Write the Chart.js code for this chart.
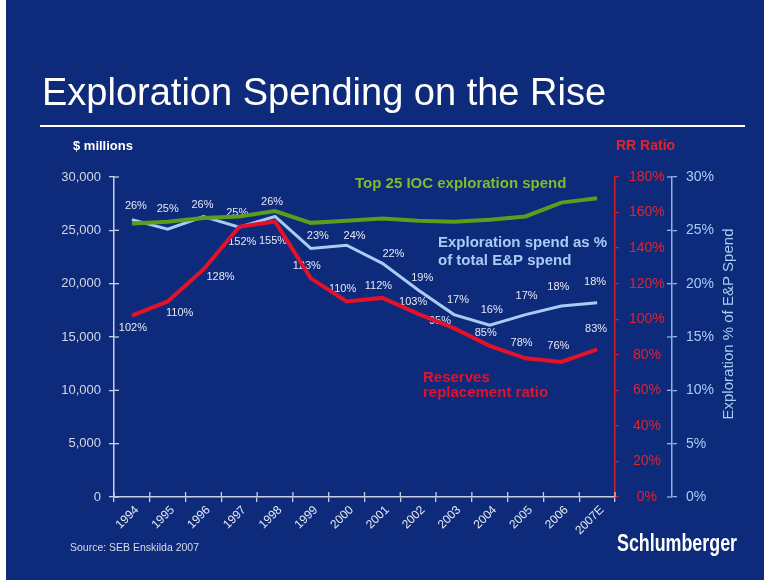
<!DOCTYPE html>
<html><head><meta charset="utf-8">
<script src="https://cdn.jsdelivr.net/npm/chart.js@4.4.0/dist/chart.umd.min.js"></script>
<style>html,body{margin:0;padding:0;background:#fff;overflow:hidden}#wrap{width:764px;height:580px;position:relative}</style>
</head><body><div id="wrap"><canvas id="c" width="764" height="580"></canvas></div>
<script>
// ---- data ----
const years = ['1994','1995','1996','1997','1998','1999','2000','2001','2002','2003','2004','2005','2006','2007E'];
const iocSpend = [25650, 25800, 26150, 26300, 26800, 25700, 25900, 26100, 25900, 25800, 26000, 26300, 27600, 28000];
const explPct = [26.0, 25.1, 26.3, 25.3, 26.3, 23.3, 23.6, 21.9, 19.4, 17.1, 16.1, 17.1, 17.9, 18.2];
const explPctLabels = ['26%','25%','26%','25%','26%','23%','24%','22%','19%','17%','16%','17%','18%','18%'];
const rrRatio = [102, 110, 128, 152, 155, 123, 110, 112, 103, 95, 85, 78, 76, 83];
const rrLabels = ['102%','110%','128%','152%','155%','123%','110%','112%','103%','95%','85%','78%','76%','83%'];
const spendAxis = {min: 0, max: 30000, step: 5000};
const rrAxis = {min: 0, max: 180, step: 20};
const pctAxis = {min: 0, max: 30, step: 5};

// ---- label nudges (styling) ----
const pctLabelNudge = [[4,-14],[0,-20],[-1,-11],[-2,-14],[-3,-14],[7,-12],[8,-9],[11,-9],[4,-12],[4,-15],[2,-15],[1,-19],[-3,-19],[-2,-21]];
const rrLabelNudge = [[1,12],[12,12],[17,8],[3,15],[-2,20],[-4,-12],[-4,-12],[-4,-12],[-5,-12],[-14,-7],[-4,-13],[-4,-15],[-3,-16],[-1,-20]];

const BG = '#0e2a7b';
const GREEN = '#5c9c1e', GREEN_TXT = '#7fbb2c';
const LBLUE = '#a8ccf4', LBLUE_AX = '#8fb2e6';
const RED = '#e3122a', RED_TXT = '#e0242c';
const AXGREY = '#c9cee0';
const LABEL = '#e6e9f2';
const FONT = "'Liberation Sans', Arial, sans-serif";

const bgPlugin = {
  id: 'bg',
  beforeDraw(chart) {
    const ctx = chart.ctx;
    ctx.save();
    ctx.fillStyle = '#ffffff';
    ctx.fillRect(0, 0, chart.width, chart.height);
    ctx.fillStyle = BG;
    ctx.fillRect(6, 0, chart.width - 6, chart.height);
    ctx.restore();
  }
};

const labelPlugin = {
  id: 'valueLabels',
  beforeDatasetsDraw(chart) {
    const ctx = chart.ctx;
    ctx.save();
    ctx.font = '11px ' + FONT;
    ctx.fillStyle = LABEL;
    ctx.textAlign = 'center';
    ctx.textBaseline = 'middle';
    const pm = chart.getDatasetMeta(1).data;
    pm.forEach((p, i) => ctx.fillText(explPctLabels[i], p.x + pctLabelNudge[i][0], p.y + pctLabelNudge[i][1]));
    const rm = chart.getDatasetMeta(2).data;
    rm.forEach((p, i) => ctx.fillText(rrLabels[i], p.x + rrLabelNudge[i][0], p.y + rrLabelNudge[i][1]));
    ctx.restore();
  }
};

const innerTicks = {
  id: 'innerTicks',
  afterDraw(chart) {
    const ctx = chart.ctx;
    const {x, y, yPct} = chart.scales;
    const seg = (a, b, c, d) => { ctx.beginPath(); ctx.moveTo(a, b); ctx.lineTo(c, d); ctx.stroke(); };
    ctx.save();
    ctx.lineWidth = 1.3;
    ctx.strokeStyle = AXGREY;
    y.ticks.forEach((t, i) => { const py = y.getPixelForTick(i); seg(y.right, py, y.right + 5, py); });
    for (let i = 0; i <= years.length; i++) { const px = x.getPixelForValue(i - 0.5); seg(px, x.top, px, x.top - 5); }
    ctx.strokeStyle = LBLUE_AX;
    yPct.ticks.forEach((t, i) => { const py = yPct.getPixelForTick(i); seg(yPct.left - 5, py, yPct.left, py); });
    ctx.restore();
  }
};

const textPlugin = {
  id: 'texts',
  afterDraw(chart) {
    const ctx = chart.ctx;
    ctx.save();
    // title
    ctx.fillStyle = '#ffffff';
    ctx.textBaseline = 'alphabetic';
    ctx.textAlign = 'left';
    ctx.font = '38px ' + FONT;
    ctx.fillText('Exploration Spending on the Rise', 42, 105);
    ctx.fillRect(40, 125, 705, 2);
    ctx.textBaseline = 'middle';
    ctx.font = 'bold 13px ' + FONT;
    ctx.fillText('$ millions', 73, 146);
    ctx.fillStyle = RED_TXT;
    ctx.font = 'bold 14px ' + FONT;
    ctx.fillText('RR Ratio', 616, 146);
    // series names
    ctx.fillStyle = GREEN_TXT;
    ctx.font = 'bold 15px ' + FONT;
    ctx.fillText('Top 25 IOC exploration spend', 355, 184);
    ctx.fillStyle = LBLUE;
    ctx.fillText('Exploration spend as %', 438, 243);
    ctx.fillText('of total E&P spend', 438, 261);
    ctx.fillStyle = RED;
    ctx.fillText('Reserves', 423, 378);
    ctx.fillText('replacement ratio', 423, 393);
    // right axis title
    ctx.save();
    ctx.translate(729, 324);
    ctx.rotate(-Math.PI / 2);
    ctx.textAlign = 'center';
    ctx.fillStyle = LBLUE;
    ctx.font = '15px ' + FONT;
    ctx.fillText('Exploration % of E&P Spend', 0, 0);
    ctx.restore();
    // source & logo
    ctx.fillStyle = '#d8dce8';
    ctx.font = '10.5px ' + FONT;
    ctx.fillText('Source: SEB Enskilda 2007', 70, 548);
    ctx.save();
    ctx.fillStyle = '#ffffff';
    ctx.font = 'bold 23px ' + FONT;
    const w = ctx.measureText('Schlumberger').width;
    ctx.translate(617, 545);
    ctx.scale(120 / w, 1);
    ctx.fillText('Schlumberger', 0, 0);
    ctx.restore();
    ctx.restore();
  }
};

new Chart(document.getElementById('c'), {
  type: 'line',
  data: {
    labels: years,
    datasets: [
      {label: 'Top 25 IOC exploration spend', data: iocSpend, yAxisID: 'y', borderColor: GREEN, borderWidth: 4, pointRadius: 0, tension: 0, order: 0},
      {label: 'Exploration spend as % of total E&P spend', data: explPct, yAxisID: 'yPct', borderColor: LBLUE, borderWidth: 3, pointRadius: 0, tension: 0, order: 2},
      {label: 'Reserves replacement ratio', data: rrRatio, yAxisID: 'yRR', borderColor: RED, borderWidth: 4, pointRadius: 0, tension: 0, order: 1}
    ]
  },
  options: {
    responsive: false,
    animation: false,
    devicePixelRatio: 1,
    layout: {padding: {top: 177, left: 54, right: 42, bottom: 43}},
    plugins: {legend: {display: false}, tooltip: {enabled: false}},
    scales: {
      x: {
        offset: true,
        grid: {offset: true, drawOnChartArea: false, color: AXGREY, tickLength: 5, lineWidth: 1.3},
        border: {color: AXGREY, width: 1.5},
        ticks: {color: LABEL, font: {family: FONT, size: 12}, minRotation: 45, maxRotation: 45, labelOffset: 5, padding: 1, autoSkip: false},
        afterFit(s) { s.height = 40; }
      },
      y: {
        position: 'left',
        min: spendAxis.min, max: spendAxis.max,
        grid: {drawOnChartArea: false, color: AXGREY, tickLength: 5, lineWidth: 1.3},
        border: {color: AXGREY, width: 1.5},
        ticks: {stepSize: spendAxis.step, color: '#d4d8e6', font: {family: FONT, size: 13}, padding: 8,
          callback: v => v.toLocaleString('en-US')},
        afterFit(s) { s.width = 60; }
      },
      yRR: {
        position: 'right', weight: 1,
        min: rrAxis.min, max: rrAxis.max,
        grid: {drawOnChartArea: false, color: '#c8202c', tickLength: 4, lineWidth: 1.3},
        border: {color: '#c8202c', width: 1.5},
        ticks: {stepSize: rrAxis.step, color: RED_TXT, font: {family: FONT, size: 14}, padding: 10, crossAlign: 'center',
          callback: v => v + '%'},
        afterFit(s) { s.width = 57; }
      },
      yPct: {
        position: 'right', weight: 2,
        min: pctAxis.min, max: pctAxis.max,
        grid: {drawOnChartArea: false, color: LBLUE_AX, tickLength: 5, lineWidth: 1.3},
        border: {color: LBLUE_AX, width: 1.5},
        ticks: {stepSize: pctAxis.step, color: LBLUE, font: {family: FONT, size: 14}, padding: 9,
          callback: v => v + '%'},
        afterFit(s) { s.width = 50; }
      }
    }
  },
  plugins: [bgPlugin, labelPlugin, innerTicks, textPlugin]
});
</script>
</body></html>
